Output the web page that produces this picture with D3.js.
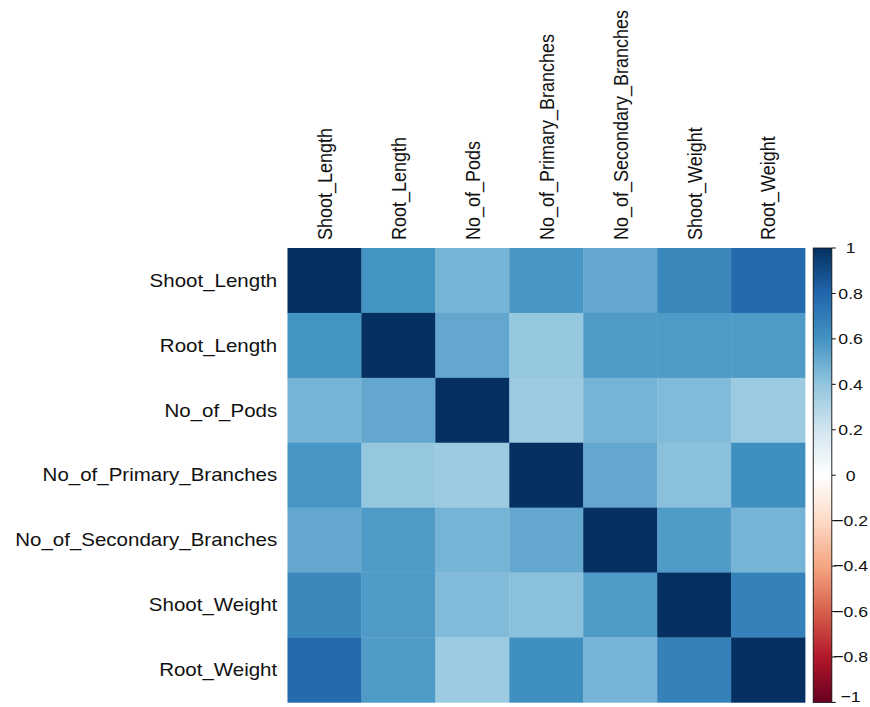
<!DOCTYPE html>
<html>
<head>
<meta charset="utf-8">
<script src="https://cdn.jsdelivr.net/npm/d3@7"></script>
<style>
  html, body { margin: 0; padding: 0; background: #fff; }
  text { font-family: "Liberation Sans", Arial, sans-serif; fill: #111; }
</style>
</head>
<body>
<svg id="chart" width="870" height="707"></svg>
<script>
// Trait names (row / column order of the correlation matrix)
const variables = [
  "Shoot_Length", "Root_Length", "No_of_Pods", "No_of_Primary_Branches",
  "No_of_Secondary_Branches", "Shoot_Weight", "Root_Weight"
];

// Pearson correlation of each trait with every trait (same order as above)
const shootLength       = [1.00, 0.60, 0.47, 0.59, 0.52, 0.65, 0.78];
const rootLength        = [0.60, 1.00, 0.52, 0.39, 0.57, 0.57, 0.57];
const noOfPods          = [0.47, 0.52, 1.00, 0.37, 0.47, 0.44, 0.37];
const primaryBranches   = [0.59, 0.39, 0.37, 1.00, 0.52, 0.42, 0.62];
const secondaryBranches = [0.52, 0.57, 0.47, 0.52, 1.00, 0.57, 0.47];
const shootWeight       = [0.65, 0.57, 0.44, 0.42, 0.57, 1.00, 0.68];
const rootWeight        = [0.78, 0.57, 0.37, 0.62, 0.47, 0.68, 1.00];

// Colour legend tick values
const legendTicks = [1, 0.8, 0.6, 0.4, 0.2, 0, -0.2, -0.4, -0.6, -0.8, -1];

// Diverging red-white-blue palette, -1 .. 1
const paletteStops = ["#67001F", "#B2182B", "#D6604D", "#F4A582", "#FDDBC7", "#FFFFFF",
                      "#D1E5F0", "#92C5DE", "#4393C3", "#2166AC", "#053061"];

const matrix = [shootLength, rootLength, noOfPods, primaryBranches,
                secondaryBranches, shootWeight, rootWeight];

const cells = [];
matrix.forEach((row, i) => row.forEach((v, j) => cells.push({ row: variables[i], col: variables[j], value: v })));

const svg = d3.select("#chart");
// The whole figure is laid out on square cells and then widened horizontally
const sx = 1.139;
const g = svg.append("g").attr("transform", `scale(${sx},1)`);

const gridLeft = 252.4, gridTop = 248, gridSize = 454.4;

const x = d3.scaleBand().domain(variables).range([gridLeft, gridLeft + gridSize]);
const y = d3.scaleBand().domain(variables).range([gridTop, gridTop + gridSize]);
const color = d3.scaleLinear()
  .domain(d3.range(paletteStops.length).map(i => -1 + 2 * i / (paletteStops.length - 1)))
  .range(paletteStops)
  .interpolate(d3.interpolateRgb);

// Heatmap cells
g.append("g").selectAll("rect")
  .data(cells)
  .join("rect")
  .attr("x", d => x(d.col))
  .attr("y", d => y(d.row))
  .attr("width", x.bandwidth() + 0.3)
  .attr("height", y.bandwidth() + 0.3)
  .attr("fill", d => color(d.value));

// Row labels
g.append("g").selectAll("text")
  .data(variables)
  .join("text")
  .attr("x", gridLeft - 9)
  .attr("y", d => y(d) + y.bandwidth() / 2)
  .attr("dy", "0.35em")
  .attr("text-anchor", "end")
  .attr("font-size", 18)
  .text(d => d);

// Column labels, rotated
g.append("g").selectAll("text")
  .data(variables)
  .join("text")
  .attr("transform", d => `translate(${x(d) + x.bandwidth() / 2},${gridTop - 8}) rotate(-90)`)
  .attr("dy", "0.36em")
  .attr("text-anchor", "start")
  .attr("font-size", 18)
  .text(d => d);

// Colour legend
const barLeft = 714, barWidth = 16.3;
const legendScale = d3.scaleLinear().domain([-1, 1]).range([gridTop + gridSize, gridTop]);

const defs = svg.append("defs");
const grad = defs.append("linearGradient")
  .attr("id", "corrGradient")
  .attr("x1", 0).attr("y1", 1).attr("x2", 0).attr("y2", 0);
grad.selectAll("stop")
  .data(paletteStops)
  .join("stop")
  .attr("offset", (d, i) => i / (paletteStops.length - 1))
  .attr("stop-color", d => d);

g.append("rect")
  .attr("x", barLeft)
  .attr("y", gridTop)
  .attr("width", barWidth)
  .attr("height", gridSize)
  .attr("fill", "url(#corrGradient)")
  .attr("stroke", "#111")
  .attr("stroke-width", 0.8);

const legendAxis = g.append("g")
  .attr("transform", `translate(${barLeft + barWidth},0)`);
legendAxis.selectAll("line")
  .data(legendTicks)
  .join("line")
  .attr("x1", 0).attr("x2", 3.5)
  .attr("y1", d => legendScale(d)).attr("y2", d => legendScale(d))
  .attr("stroke", "#111")
  .attr("stroke-width", 1);
// Labels sit beside their ticks; the lowest one is kept inside the canvas
legendAxis.selectAll("text")
  .data(legendTicks)
  .join("text")
  .attr("x", 16.5)
  .attr("y", d => Math.min(legendScale(d), 697))
  .attr("dy", "0.35em")
  .attr("text-anchor", "middle")
  .attr("font-size", 15.5)
  .text(d => d3.format("")(d));
</script>
</body>
</html>
